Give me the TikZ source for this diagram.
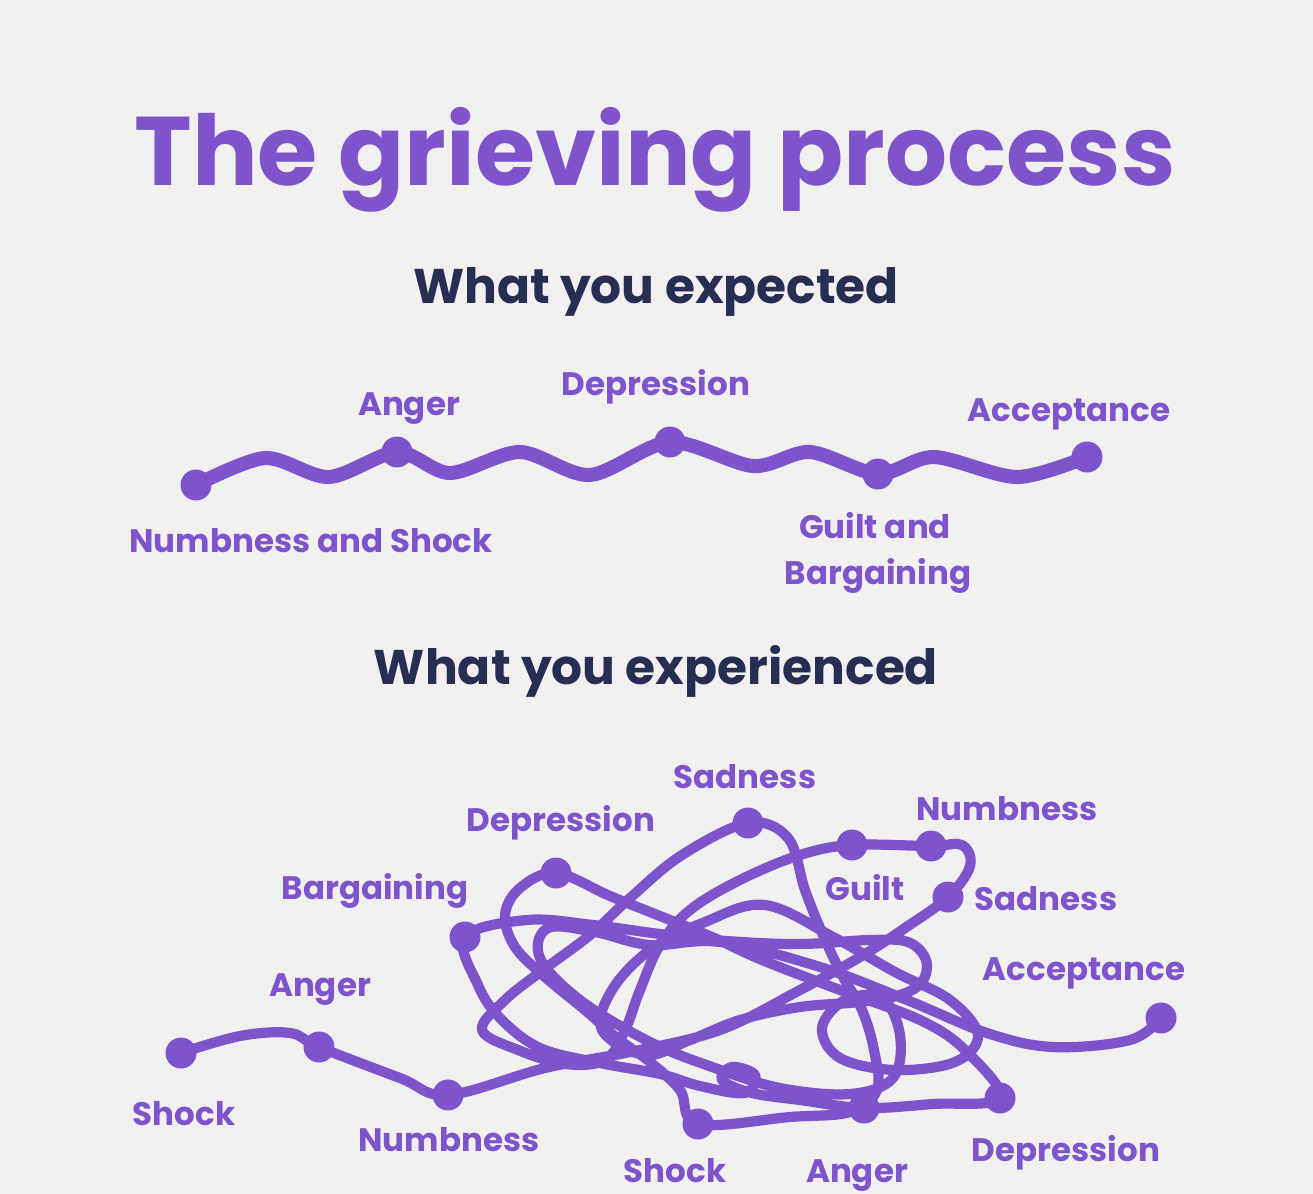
\documentclass[tikz,border=0pt]{standalone}
\usepackage{fontspec}
\setmainfont{Poppins}
\usepackage{tikz}
\definecolor{grief_purple}{HTML}{7E54CC}
\definecolor{grief_navy}{HTML}{262E54}
\definecolor{grief_bg}{HTML}{F2F0EF}
\tikzstyle{node_dot} = [circle, fill=grief_purple, inner sep=0pt, minimum size=0.62cm]
\tikzstyle{node_label} = [anchor=base, inner sep=0pt, text=grief_purple, font=\bfseries\fontsize{18.5}{22}\selectfont]
\tikzstyle{node_head} = [anchor=base, inner sep=0pt, text=grief_navy, font=\bfseries\fontsize{27.7}{33}\selectfont]
\tikzstyle{edge_wave} = [grief_purple, line width=8pt, line cap=round, line join=round]
\tikzstyle{edge_tangle} = [grief_purple, line width=5.8pt, line cap=round, line join=round]

\begin{document}
\begin{tikzpicture}[x=0.02cm, y=-0.02cm]
\fill[grief_bg] (0,0) rectangle (1313,1194);
\useasboundingbox (0,0) rectangle (1313,1194);

\node (T) at (655,185) [anchor=base, inner sep=0pt, text=grief_purple, font=\bfseries\fontsize{55.5}{66}\selectfont] {The grieving process};
\node (H1) at (656,303) [node_head] {What you expected};
\node (H2) at (656,684) [node_head] {What you experienced};

\node (A) at (196,485) [node_dot] {};
\node (B) at (397,452) [node_dot] {};
\node (C) at (670,442) [node_dot] {};
\node (D) at (878,474) [node_dot] {};
\node (E) at (1087,457) [node_dot] {};

\node (LA) at (311,552) [node_label] {Numbness and Shock};
\node (LB) at (409,415) [node_label] {Anger};
\node (LC) at (656,395) [node_label] {Depression};
\node (LD) at (875,538) [node_label] {Guilt and};
\node (LD2) at (878,584) [node_label] {Bargaining};
\node (LE) at (1069,421) [node_label] {Acceptance};

\draw[edge_wave] plot[smooth] coordinates {(A.center) (265,458) (329,477) (B.center) (450,473) (520,452) (590,475) (C.center) (753,466) (810,452) (D.center) (934,457) (1017,477) (E.center)};

\node (X1) at (181,1053) [node_dot] {};
\node (X2) at (319,1047) [node_dot] {};
\node (X3) at (448,1095) [node_dot] {};
\node (X4) at (465,937) [node_dot] {};
\node (X5) at (556,873) [node_dot] {};
\node (X6) at (748,823) [node_dot] {};
\node (X7) at (852,845) [node_dot] {};
\node (X8) at (931,846) [node_dot] {};
\node (X9) at (948,897) [node_dot] {};
\node (X10) at (1161,1018) [node_dot] {};
\node (X11) at (1000,1098) [node_dot] {};
\node (X12) at (864,1108) [node_dot] {};
\node (X13) at (698,1124) [node_dot] {};

\node (L1) at (184,1125) [node_label] {Shock};
\node (L2) at (320,996) [node_label] {Anger};
\node (L3) at (449,1151) [node_label] {Numbness};
\node (L4) at (375,899) [node_label] {Bargaining};
\node (L5) at (561,831) [node_label] {Depression};
\node (L6) at (745,788) [node_label] {Sadness};
\node (L7) at (865,900) [node_label] {Guilt};
\node (L8) at (1007,820) [node_label] {Numbness};
\node (L9) at (1046,910) [node_label] {Sadness};
\node (L10) at (1084,980) [node_label] {Acceptance};
\node (L11) at (1066,1161) [node_label] {Depression};
\node (L12) at (857,1182) [node_label] {Anger};
\node (L13) at (675,1182) [node_label] {Shock};

\draw[edge_tangle] plot[smooth, tension=0.6] coordinates {(X1.center) (240,1036) (290,1033) (X2.center) (400,1078) (X3.center)
 (545,1068) (630,1052) (720,1030) (800,990) (860,957) (905,928) (X9.center) (970,866) (962,845) (X8.center) (X7.center)
 (800,855) (740,880) (690,910) (660,945) (640,990) (625,1030) (605,1060) (565,1064) (518,1050) (482,1030)
 (505,1000) (543,970) (590,935) (630,898) (682,855) (X6.center)
 (788,838) (805,890) (823,935) (842,975) (862,1010) (874,1050) (877,1090) (850,1112) (790,1117) (X13.center)
 (680,1090) (650,1062) (617,1038) (585,1010) (545,977) (515,947) (505,915) (520,888) (X5.center)
 (610,896) (660,916) (712,937) (762,960) (840,990) (920,1020) (965,1050) (X11.center) (933,1104) (X12.center)
 (800,1100) (752,1093) (722,1080) (732,1067) (755,1075) (745,1093) (700,1086) (660,1074) (600,1063) (540,1048) (500,1018) (478,985) (X4.center)
 (527,920) (593,925) (660,934) (727,941) (800,944) (870,940) (908,942) (926,960) (922,982) (900,995) (860,1002) (800,1007) (740,1020) (690,1040) (645,1055)
 (602,1030) (612,990) (650,950) (705,922) (765,905) (835,938) (895,972) (950,1000) (978,1035) (955,1062) (895,1070) (840,1058) (822,1028) (845,1000) (882,998) (900,1035) (893,1078) (850,1094)
 (780,1088) (715,1068) (650,1042) (580,1000) (540,958) (548,928) (595,932) (650,945) (720,942) (820,967) (907,1000) (987,1033) (1053,1047) (1130,1040) (X10.center)};
\end{tikzpicture}
\end{document}
